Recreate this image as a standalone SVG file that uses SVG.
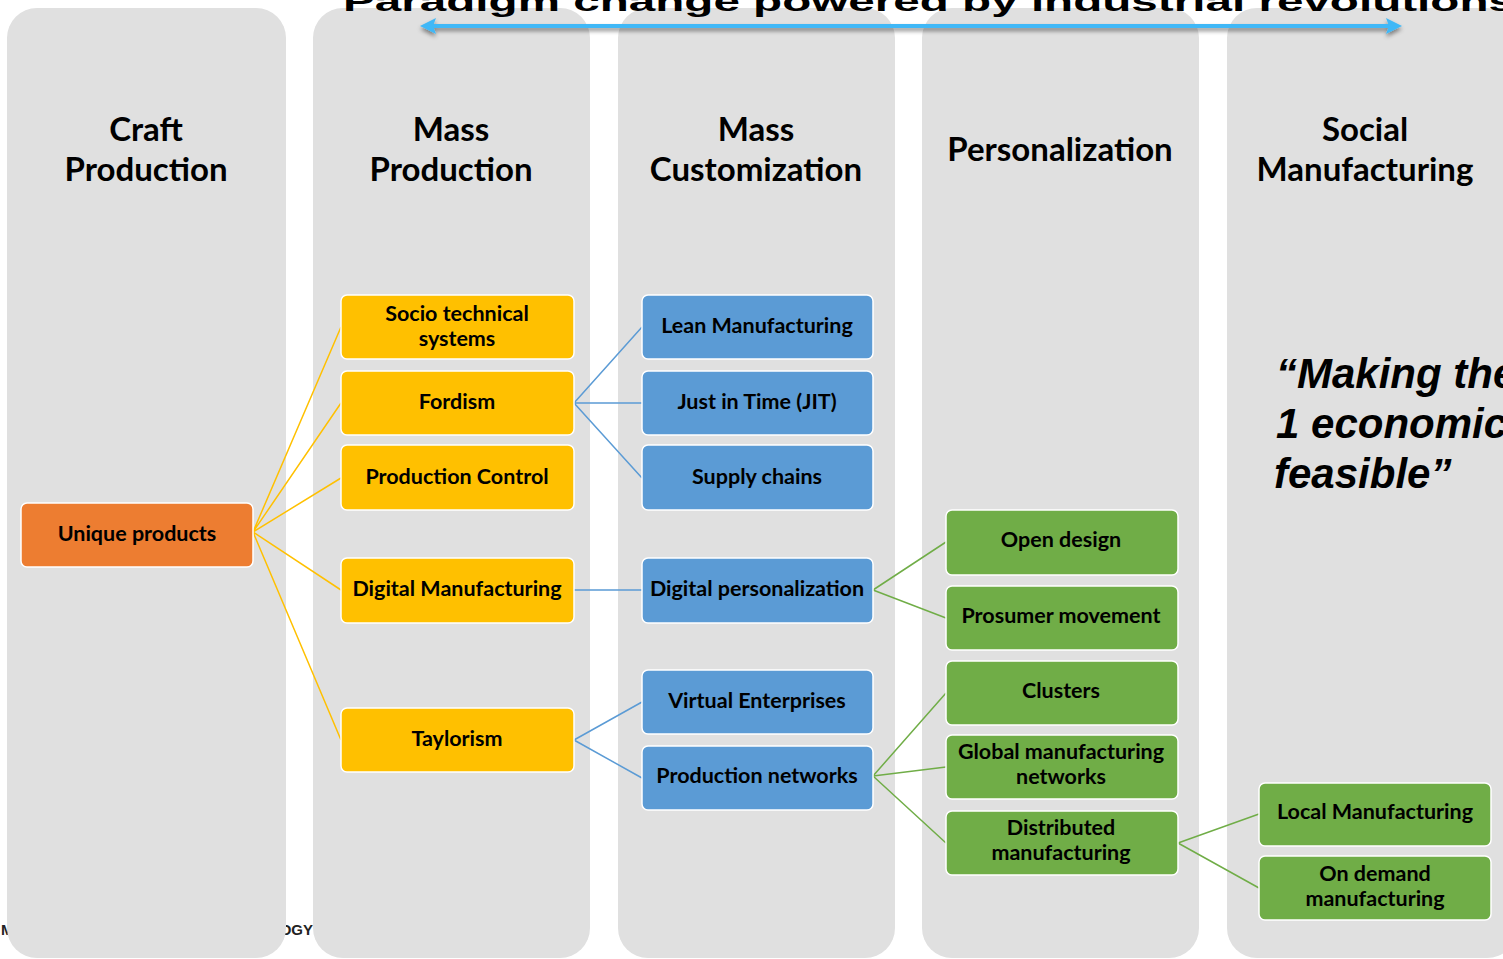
<svg xmlns="http://www.w3.org/2000/svg" width="1503" height="959" viewBox="0 0 1503 959">
<style>
.col{fill:#e0e0e0}
.hdr{font-family:Lato,"Open Sans",sans-serif;font-weight:700;font-size:33px;fill:#000;text-anchor:middle}
.box{stroke:#fff;stroke-width:1.5}
.or{fill:#ed7d31}.ye{fill:#ffc000}.bl{fill:#5b9bd5}.gr{fill:#70ad47}
.t{font-family:Lato,"Open Sans",sans-serif;font-weight:700;font-size:21.5px;fill:#000;text-anchor:middle}
.cy{stroke:#ffc000;stroke-width:1.5;fill:none}
.cb{stroke:#5b9bd5;stroke-width:1.5;fill:none}
.cg{stroke:#70ad47;stroke-width:1.5;fill:none}
.q{font-family:"Liberation Sans",Arial,sans-serif;font-weight:700;font-style:italic;font-size:42px;fill:#000}
</style>
<defs>
<filter id="sh" x="-5%" y="-200%" width="110%" height="500%">
<feDropShadow dx="0" dy="3" stdDeviation="2" flood-color="#000" flood-opacity="0.45"/>
</filter>
</defs>
<rect width="1503" height="959" fill="#fff"/>
<text x="1" y="935" font-family="'Liberation Sans',Arial,sans-serif" font-weight="700" font-size="15" fill="#222">M</text>
<text x="313" y="935" text-anchor="end" font-family="'Liberation Sans',Arial,sans-serif" font-weight="700" font-size="15" fill="#222">OGY</text>
<g id="columns">
<rect class="col" x="7" y="8" width="279" height="950" rx="30"/>
<rect class="col" x="313" y="8" width="277" height="950" rx="30"/>
<rect class="col" x="618" y="8" width="277" height="950" rx="30"/>
<rect class="col" x="922" y="8" width="277" height="950" rx="30"/>
<rect class="col" x="1227" y="8" width="290" height="950" rx="30"/>
</g>
<text transform="translate(343,11) scale(1,0.6)" font-family="'Liberation Sans',Arial,sans-serif" font-weight="700" font-size="47" fill="#000" textLength="1172" lengthAdjust="spacingAndGlyphs">Paradigm change powered by industrial revolutions</text>
<g id="timeline" filter="url(#sh)">
<line x1="432" y1="26" x2="1390" y2="26" stroke="#3fb8f7" stroke-width="4"/>
<polygon points="420,26 436,18 433,26 436,34" fill="#3fb8f7"/>
<polygon points="1402,26 1386,18 1389,26 1386,34" fill="#3fb8f7"/>
</g>
<g id="headers">
<text class="hdr" x="146" y="141">Craft</text>
<text class="hdr" x="146" y="181">Production</text>
<text class="hdr" x="451" y="141">Mass</text>
<text class="hdr" x="451" y="181">Production</text>
<text class="hdr" x="756" y="141">Mass</text>
<text class="hdr" x="756" y="181">Customization</text>
<text class="hdr" x="1060" y="161">Personalization</text>
<text class="hdr" x="1365" y="141">Social</text>
<text class="hdr" x="1365" y="181">Manufacturing</text>
</g>
<g id="quote">
<text class="q" x="1276" y="388">“Making the</text>
<text class="q" x="1276" y="438">1 economic</text>
<text class="q" x="1274" y="488">feasible”</text>
</g>
<g id="connectors">
<path class="cy" d="M253,532L341,327M253,532L341,403M253,532L341,478M253,532L341,590M253,532L341,740"/>
<path class="cb" d="M574,403L642,327M574,403L642,403M574,403L642,478M574,590L642,590M574,740L642,702M574,740L642,778"/>
<path class="cg" d="M873,590L946,542M873,590L946,618M873,776L946,693M873,776L946,767M873,776L946,843M1178,843L1259,814M1178,843L1259,888"/>
</g>
<g id="n-unique"><rect class="box or" x="21" y="503" width="232" height="64" rx="6"/><text class="t" x="137" y="541">Unique products</text></g>
<g id="n-socio"><rect class="box ye" x="341" y="295" width="233" height="64" rx="6"/><text class="t" x="457" y="321">Socio technical</text><text class="t" x="457" y="346">systems</text></g>
<g id="n-fordism"><rect class="box ye" x="341" y="371" width="233" height="64" rx="6"/><text class="t" x="457" y="409">Fordism</text></g>
<g id="n-prodctrl"><rect class="box ye" x="341" y="445" width="233" height="65" rx="6"/><text class="t" x="457" y="484">Production Control</text></g>
<g id="n-digman"><rect class="box ye" x="341" y="558" width="233" height="65" rx="6"/><text class="t" x="457" y="596">Digital Manufacturing</text></g>
<g id="n-taylor"><rect class="box ye" x="341" y="708" width="233" height="64" rx="6"/><text class="t" x="457" y="746">Taylorism</text></g>
<g id="n-lean"><rect class="box bl" x="642" y="295" width="231" height="64" rx="6"/><text class="t" x="757" y="333">Lean Manufacturing</text></g>
<g id="n-jit"><rect class="box bl" x="642" y="371" width="231" height="64" rx="6"/><text class="t" x="757" y="409">Just in Time (JIT)</text></g>
<g id="n-supply"><rect class="box bl" x="642" y="445" width="231" height="65" rx="6"/><text class="t" x="757" y="484">Supply chains</text></g>
<g id="n-digpers"><rect class="box bl" x="642" y="558" width="231" height="65" rx="6"/><text class="t" x="757" y="596">Digital personalization</text></g>
<g id="n-virtual"><rect class="box bl" x="642" y="670" width="231" height="64" rx="6"/><text class="t" x="757" y="708">Virtual Enterprises</text></g>
<g id="n-prodnet"><rect class="box bl" x="642" y="746" width="231" height="64" rx="6"/><text class="t" x="757" y="783">Production networks</text></g>
<g id="n-open"><rect class="box gr" x="946" y="510" width="232" height="65" rx="6"/><text class="t" x="1061" y="547">Open design</text></g>
<g id="n-prosumer"><rect class="box gr" x="946" y="586" width="232" height="64" rx="6"/><text class="t" x="1061" y="623">Prosumer movement</text></g>
<g id="n-clusters"><rect class="box gr" x="946" y="661" width="232" height="64" rx="6"/><text class="t" x="1061" y="698">Clusters</text></g>
<g id="n-global"><rect class="box gr" x="946" y="735" width="232" height="64" rx="6"/><text class="t" x="1061" y="759">Global manufacturing</text><text class="t" x="1061" y="784">networks</text></g>
<g id="n-distrib"><rect class="box gr" x="946" y="811" width="232" height="64" rx="6"/><text class="t" x="1061" y="835">Distributed</text><text class="t" x="1061" y="860">manufacturing</text></g>
<g id="n-local"><rect class="box gr" x="1259" y="783" width="232" height="63" rx="6"/><text class="t" x="1375" y="819">Local Manufacturing</text></g>
<g id="n-ondemand"><rect class="box gr" x="1259" y="856" width="232" height="64" rx="6"/><text class="t" x="1375" y="881">On demand</text><text class="t" x="1375" y="906">manufacturing</text></g>
</svg>
